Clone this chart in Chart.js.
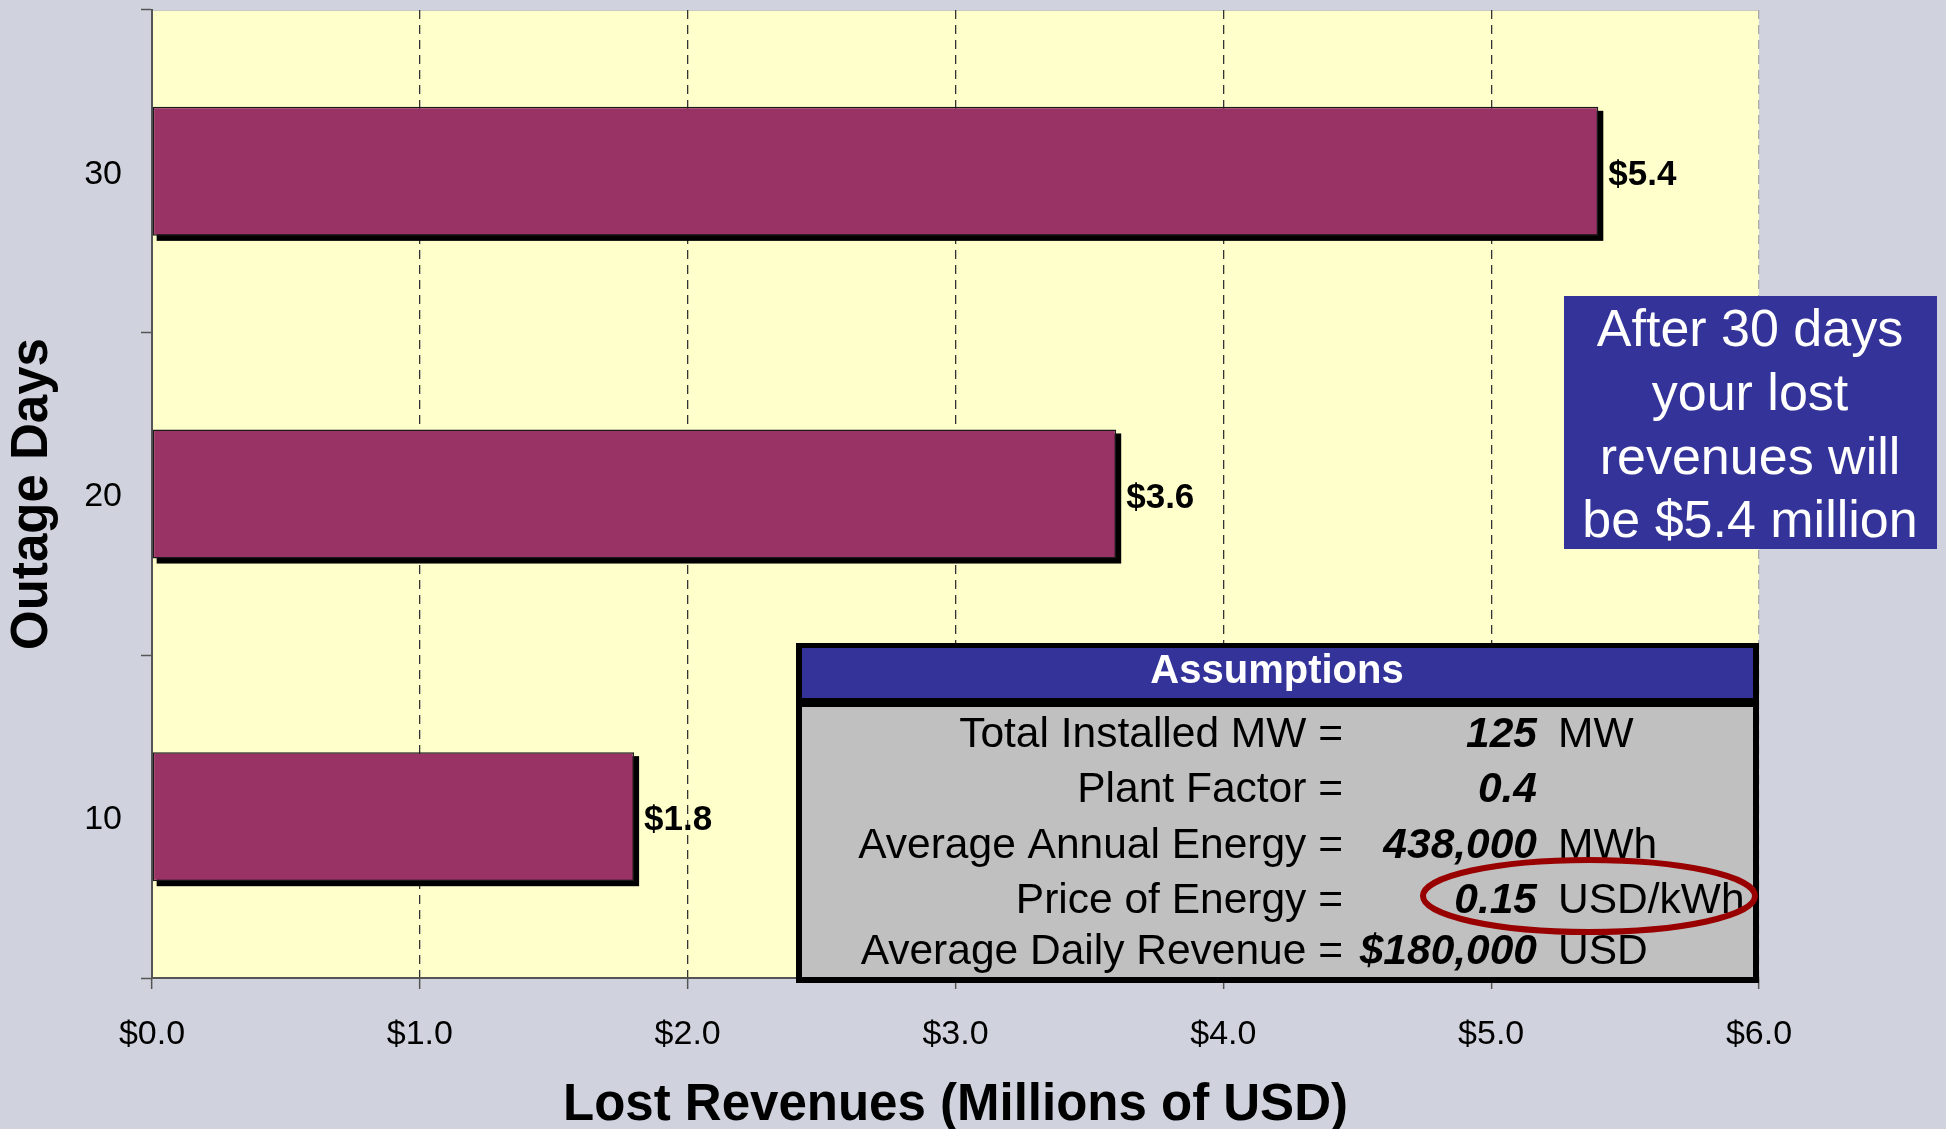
<html lang="en">
<head>
  <meta charset="UTF-8">
  <title>Lost Revenues</title>
  <script src="https://cdn.jsdelivr.net/npm/chart.js@4.4.1/dist/chart.umd.min.js"></script>
  <style>
    html, body { margin: 0; padding: 0; background: rgb(208, 211, 221); }
    .wrap { position: relative; width: 1946px; height: 1129px; }
  </style>
</head>
<body>
  <div class="wrap"><canvas id="chart" width="1946" height="1129"></canvas></div>

  <script>
    // chart data
    var outageDays = ['30', '20', '10'];
    var lostRevenues = [5.4, 3.6, 1.8];
    var xTicks = [0, 1, 2, 3, 4, 5, 6];

    // callout text
    var calloutLines = ['After 30 days', 'your lost', 'revenues will', 'be $5.4 million'];

    // assumptions table
    var assumptionLabels = ['Total Installed MW =', 'Plant Factor =', 'Average Annual Energy =', 'Price of Energy =', 'Average Daily Revenue ='];
    var assumptionValues = ['125', '0.4', '438,000', '0.15', '$180,000'];
    var assumptionUnits = ['MW', '', 'MWh', 'USD/kWh', 'USD'];

    var FONT = "'Liberation Sans', Arial, sans-serif";

    var plotBackground = {
      id: 'plotBackground',
      beforeDraw: function(chart){
        var ctx = chart.ctx, a = chart.chartArea;
        ctx.save();
        ctx.fillStyle = 'rgb(208, 211, 221)';
        ctx.fillRect(0, 0, chart.width, chart.height);
        ctx.fillStyle = 'rgb(255, 255, 204)';
        ctx.fillRect(a.left, a.top, a.right - a.left, a.bottom - a.top);
        ctx.strokeStyle = 'rgb(200, 200, 200)';
        ctx.lineWidth = 1;
        ctx.beginPath();
        ctx.moveTo(a.left, a.top + 0.5);
        ctx.lineTo(a.right, a.top + 0.5);
        ctx.stroke();
        ctx.restore();
      }
    };

    // black drop shadow under each bar, taken from the bar elements
    var barShadow = {
      id: 'barShadow',
      beforeDatasetDraw: function(chart){
        var ctx = chart.ctx;
        var meta = chart.getDatasetMeta(0);
        ctx.save();
        ctx.fillStyle = '#000';
        meta.data.forEach(function(bar){
          var top = bar.y - bar.height / 2;
          ctx.fillRect(bar.base + 4, top + 4, bar.x - bar.base + 1, bar.height + 1);
        });
        ctx.restore();
      }
    };

    var barLabels = {
      id: 'barLabels',
      afterDatasetsDraw: function(chart){
        var ctx = chart.ctx;
        var meta = chart.getDatasetMeta(0);
        ctx.save();
        ctx.font = 'bold 35px ' + FONT;
        ctx.fillStyle = '#000';
        ctx.textAlign = 'left';
        ctx.textBaseline = 'middle';
        meta.data.forEach(function(bar, i){
          ctx.fillText('$' + lostRevenues[i].toFixed(1), bar.x + 10, bar.y + 4);
        });
        ctx.restore();
      }
    };

    var notes = {
      id: 'notes',
      afterDraw: function(chart){
        var ctx = chart.ctx, i;
        ctx.save();

        // blue callout
        ctx.fillStyle = 'rgb(51, 51, 153)';
        ctx.fillRect(1564, 296, 373, 253);
        ctx.fillStyle = '#fff';
        ctx.font = '52px ' + FONT;
        ctx.textAlign = 'center';
        ctx.textBaseline = 'alphabetic';
        for(i = 0; i < calloutLines.length; i++){
          ctx.fillText(calloutLines[i], 1750, 346 + i * 63.8);
        }

        // assumptions box
        ctx.fillStyle = '#000';
        ctx.fillRect(796, 643, 963, 340);
        ctx.fillStyle = 'rgb(51, 51, 153)';
        ctx.fillRect(802, 648, 951, 50);
        ctx.fillStyle = 'rgb(192, 192, 192)';
        ctx.fillRect(802, 707, 951, 270);

        ctx.fillStyle = '#fff';
        ctx.font = 'bold 40px ' + FONT;
        ctx.textAlign = 'center';
        ctx.fillText('Assumptions', 1277, 683);

        var rows = [747, 802, 858, 913, 964];
        ctx.fillStyle = '#000';
        for(i = 0; i < assumptionLabels.length; i++){
          ctx.font = '42.5px ' + FONT;
          ctx.textAlign = 'right';
          ctx.fillText(assumptionLabels[i], 1343, rows[i]);
          ctx.font = 'italic bold 42.5px ' + FONT;
          ctx.fillText(assumptionValues[i], 1537, rows[i]);
          ctx.font = '42.5px ' + FONT;
          ctx.textAlign = 'left';
          ctx.fillText(assumptionUnits[i], 1558, rows[i]);
        }

        // red ellipse round the energy price
        ctx.strokeStyle = 'rgb(153, 0, 0)';
        ctx.lineWidth = 6;
        ctx.beginPath();
        ctx.ellipse(1589, 896, 166, 36, 0, 0, Math.PI * 2);
        ctx.stroke();

        ctx.restore();
      }
    };

    new Chart(document.getElementById('chart'), {
      type: 'bar',
      data: {
        labels: outageDays,
        datasets: [{
          data: lostRevenues,
          backgroundColor: 'rgb(153, 51, 102)',
          borderColor: '#1a1a1a',
          borderWidth: 1.5,
          borderSkipped: false,
          categoryPercentage: 1,
          barPercentage: 0.4
        }]
      },
      plugins: [plotBackground, barShadow, barLabels, notes],
      options: {
        indexAxis: 'y',
        responsive: false,
        animation: false,
        layout: { padding: { top: 10, right: 187, left: 0, bottom: 0 } },
        plugins: {
          legend: { display: false },
          tooltip: { enabled: false }
        },
        scales: {
          x: {
            min: 0,
            max: 6,
            afterFit: function(scale){
              scale.height = 151;
              scale.paddingLeft = 0;
              scale.paddingRight = 0;
            },
            afterBuildTicks: function(scale){
              scale.ticks = xTicks.map(function(v){ return { value: v }; });
            },
            border: { display: true, color: '#555', width: 2, dash: [9, 6] },
            grid: {
              color: function(c){
                if(c.tick && c.tick.value === 0) return 'rgba(0,0,0,0)';
                if(c.tick && c.tick.value === 6) return 'rgb(170, 170, 170)';
                return '#333';
              },
              lineWidth: 1.3,
              tickColor: '#555',
              tickLength: 11,
              tickWidth: 1.5,
              tickBorderDash: []
            },
            ticks: {
              color: '#000',
              padding: 25,
              font: { family: FONT, size: 34 },
              callback: function(v){ return '$' + Number(v).toFixed(1); }
            },
            title: {
              display: true,
              text: 'Lost Revenues (Millions of USD)',
              color: '#000',
              padding: { top: 0, bottom: 0 },
              font: { family: FONT, size: 51, weight: 'bold', lineHeight: 0.9 }
            }
          },
          y: {
            afterFit: function(scale){
              scale.width = 152;
              scale.paddingTop = 0;
              scale.paddingBottom = 0;
            },
            border: { display: true, color: '#555', width: 2 },
            grid: {
              offset: true,
              drawOnChartArea: false,
              tickColor: '#555',
              tickLength: 11,
              tickWidth: 1.5
            },
            ticks: {
              color: '#000',
              padding: 19,
              labelOffset: 3,
              font: { family: FONT, size: 34 }
            },
            title: {
              display: true,
              text: 'Outage Days',
              color: '#000',
              padding: { top: 7, bottom: 0 },
              font: { family: FONT, size: 51, weight: 'bold', lineHeight: 1 }
            }
          }
        }
      }
    });
  </script>
</body>
</html>
